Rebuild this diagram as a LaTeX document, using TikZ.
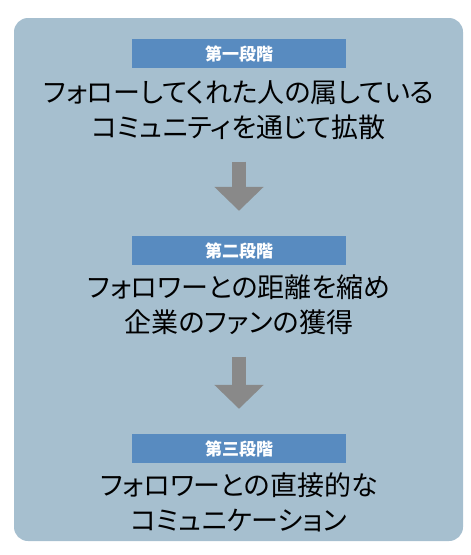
\documentclass[tikz,border=0pt]{standalone}
\usepackage{fontspec}
\setmainfont{Noto Sans CJK JP}[RawFeature=+palt]
\usetikzlibrary{arrows.meta,positioning}

\definecolor{panelblue}{RGB}{166,191,207}
\definecolor{stageblue}{RGB}{88,139,192}
\definecolor{arrowgray}{RGB}{137,137,137}

\begin{document}
\begin{tikzpicture}[x=1pt,y=-1pt,
        stage/.style={fill=stageblue,text=white,minimum width=214pt,minimum height=29pt,
            inner sep=0pt,font=\fontsize{17}{20}\selectfont\bfseries},
        body/.style={align=center,inner sep=0pt,font=\fontsize{27}{35}\selectfont},
        blockarrow/.style={arrowgray,line width=14pt,-{Triangle[length=24pt,width=48pt]},
            shorten <=22pt,shorten >=25pt}]

    \useasboundingbox (0,0) rectangle (471,555);
    \fill[panelblue,rounded corners=14pt] (14,18) rectangle (463,541);

    % stage 1
    \node[stage] (s1) at (239,53.5) {第一段階};
    \node[body] (t1) at (239,110) {フォローしてくれた人の属している\\コミュニティを通じて拡散};
    % stage 2
    \node[stage] (s2) at (239,250.5) {第二段階};
    \node[body] (t2) at (239,304.5) {フォロワーとの距離を縮め\\企業のファンの獲得};
    % stage 3
    \node[stage] (s3) at (239,448.5) {第三段階};
    \node[body] (t3) at (239,502.5) {フォロワーとの直接的な\\コミュニケーション};

    \draw[blockarrow] (t1.south) -- (s2.north);
    \draw[blockarrow] (t2.south) -- (s3.north);
\end{tikzpicture}
\end{document}
